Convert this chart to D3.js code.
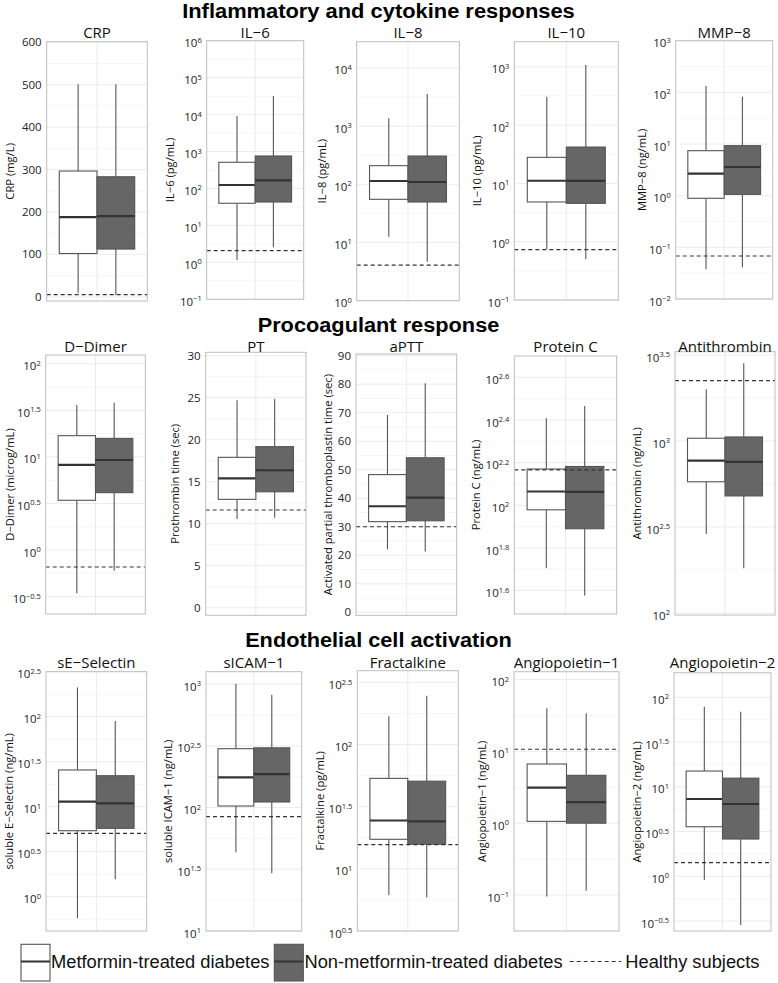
<!DOCTYPE html>
<html>
<head>
<meta charset="utf-8">
<script src="https://cdn.jsdelivr.net/npm/d3@7"></script>
<style>
  html, body { margin: 0; padding: 0; background: #fff; }
  svg { display: block; }
</style>
</head>
<body>
<svg id="chart" width="778" height="983"></svg>
<script>
// ---------------- DATA ----------------
const sectionTitles = ["Inflammatory and cytokine responses", "Procoagulant response", "Endothelial cell activation"];

const panelNames = ["CRP", "IL−6", "IL−8", "IL−10", "MMP−8",
  "D−Dimer", "PT", "aPTT", "Protein C", "Antithrombin",
  "sE−Selectin", "sICAM−1", "Fractalkine", "Angiopoietin−1", "Angiopoietin−2"];

const axisTitles = ["CRP (mg/L)", "IL−6 (pg/mL)", "IL−8 (pg/mL)", "IL−10 (pg/mL)", "MMP−8 (ng/mL)",
  "D−Dimer (microg/mL)", "Prothrombin time (sec)", "Activated partial thromboplastin time (sec)",
  "Protein C (ng/mL)", "Antithrombin (ng/mL)",
  "soluble E−Selectin (ng/mL)", "soluble ICAM−1 (ng/mL)", "Fractalkine (pg/mL)",
  "Angiopoietin−1 (ng/mL)", "Angiopoietin−2 (ng/mL)"];

const groups = ["Metformin-treated diabetes", "Non-metformin-treated diabetes"];
const legendHealthy = "Healthy subjects";

// [whisker low, Q1, median, Q3, whisker high]
const metformin = [
  [9.4, 102, 188, 296.5, 501],
  [1.16, 39.7, 124, 512, 9160],
  [12.6, 55.2, 114, 209, 1361],
  [0.74, 4.8, 11.1, 28, 307],
  [0.0375, 0.89, 2.67, 7.43, 133],
  [0.343, 3.42, 8.19, 16.9, 36.1],
  [10.56, 12.9, 15.4, 17.9, 24.7],
  [22.1, 31.8, 37.2, 48.3, 69.2],
  [50.7, 95.2, 116, 147.9, 256],
  [288, 579, 768, 1037, 1999],
  [0.575, 5.41, 11.4, 25.6, 212],
  [43.4, 103, 176, 300, 1007],
  [6.14, 17.3, 24.5, 53.5, 169],
  [0.095, 1.06, 3.12, 6.67, 39.7],
  [0.91, 3.58, 7.31, 15.0, 78.5]
];
const nonMetformin = [
  [4, 112.5, 190, 283, 501],
  [2.56, 43, 166, 757, 31900],
  [4.68, 49.6, 109.5, 306, 3560],
  [0.505, 4.55, 11, 42, 1074],
  [0.041, 1.06, 3.59, 9.3, 82.4],
  [0.6, 4.13, 9.26, 15.8, 38.2],
  [10.7, 13.8, 16.36, 19.17, 24.85],
  [21.3, 32.1, 40.2, 54.2, 80.3],
  [37.7, 77.6, 115.6, 152, 292],
  [182, 479, 755, 1055, 2830],
  [1.56, 5.75, 10.9, 22.1, 89.6],
  [29.4, 111, 187, 305, 820],
  [5.89, 15.8, 24.1, 50.8, 247],
  [0.115, 1.0, 1.97, 4.64, 33.9],
  [0.286, 2.61, 6.43, 12.5, 69]
];
const healthy = [5, 2.07, 4.1, 0.73, 0.068, 0.657, 11.63, 30, 146.6, 2244, 5.06, 84.6, 15.7, 10.7, 1.42];

const scaleTypes = ["linear", "log", "log", "log", "log", "log", "linear", "linear", "log", "log", "log", "log", "log", "log", "log"];
// linear: value domain; log: log10 exponent domain
const domains = [
  [-10, 601.5], [-1, 6], [0, 4.45], [-1, 3.43], [-2, 3],
  [-0.687, 2.094], [-0.9, 30.4], [-1.05, 90.6], [1.49, 2.70], [1.988, 3.519],
  [-0.381, 2.5], [1.0, 3.101], [0.5, 2.595], [-1.501, 2.109], [-0.611, 2.275]
];
// linear: tick values; log: tick exponents
const ticks = [
  [0, 100, 200, 300, 400, 500, 600],
  [-1, 0, 1, 2, 3, 4, 5, 6],
  [0, 1, 2, 3, 4],
  [-1, 0, 1, 2, 3],
  [-2, -1, 0, 1, 2, 3],
  [-0.5, 0, 0.5, 1, 1.5, 2],
  [0, 5, 10, 15, 20, 25, 30],
  [0, 10, 20, 30, 40, 50, 60, 70, 80, 90],
  [1.6, 1.8, 2, 2.2, 2.4, 2.6],
  [2, 2.5, 3, 3.5],
  [0, 0.5, 1, 1.5, 2, 2.5],
  [1, 1.5, 2, 2.5, 3],
  [0.5, 1, 1.5, 2, 2.5],
  [-1, 0, 1, 2],
  [-0.5, 0, 0.5, 1, 1.5, 2]
];

// ---------------- LAYOUT ----------------
// panel rectangles [left, right, top, bottom]
const panelRects = [
  [46.7, 147.3, 41.7, 301], [206.7, 303.7, 40.7, 299.3], [356.7, 459.3, 41.7, 300.7], [514.3, 618.3, 41.7, 300], [675.7, 772.7, 40.7, 299],
  [45.7, 145.3, 355, 614], [205.7, 306, 352.3, 615.3], [356, 456.7, 354, 615.3], [514.3, 616.7, 356, 614], [675, 775, 351.7, 615],
  [46, 146.7, 671.7, 931], [206, 301.7, 671.7, 931], [357.3, 458.3, 670.7, 931], [514, 619, 671.7, 931], [674, 771, 672.7, 931]
];
const axisTitleX = [10, 170, 321.7, 477.3, 641.7, 10, 175, 328.3, 476, 637.3, 9.3, 168.3, 320, 481.7, 636.7];
const panelTitleY = [37.5, 351.5, 668];
const sectionTitleY = [17.5, 331.7, 646.7];
const sectionTitleW = [392.6, 241.7, 266.7];

const FONT = "'Open Sans', 'DejaVu Sans', sans-serif";
const FONT2 = "'Liberation Sans', Arial, sans-serif";
const GRAY = "#666666";
const LINE = "#555555";

const svg = d3.select("#chart");

// Section titles
svg.selectAll("text.section").data(sectionTitles).join("text")
  .attr("class", "section")
  .attr("x", 378.5)
  .attr("y", (d, i) => sectionTitleY[i])
  .attr("text-anchor", "middle")
  .attr("font-family", FONT2)
  .attr("font-weight", "bold")
  .attr("font-size", 20)
  .attr("textLength", (d, i) => sectionTitleW[i])
  .attr("lengthAdjust", "spacingAndGlyphs")
  .attr("fill", "#000")
  .text(d => d);

function fmtExp(e) {
  const s = (Math.round(e * 10) / 10).toString();
  return s.replace("-", "−");
}

panelNames.forEach((name, i) => {
  const [L, R, T, B] = panelRects[i];
  const isLog = scaleTypes[i] === "log";
  const dom = domains[i];
  const y = isLog
    ? d3.scaleLog().domain([Math.pow(10, dom[0]), Math.pow(10, dom[1])]).range([B, T])
    : d3.scaleLinear().domain(dom).range([B, T]);
  const tv = ticks[i];
  const tickVal = t => isLog ? Math.pow(10, t) : t;

  // minor breaks: midpoints between majors plus one outside each end
  const step = tv[1] - tv[0];
  const minors = [];
  for (let k = -1; k < tv.length; k++) {
    const m = (k < 0 ? tv[0] - step / 2 : tv[k] + step / 2);
    if (m > dom[0] && m < dom[1]) minors.push(m);
  }

  const g = svg.append("g");
  const cx = (L + R) / 2;
  const W = R - L;

  g.append("rect").attr("x", L).attr("y", T).attr("width", W).attr("height", B - T).attr("fill", "#fff");

  g.selectAll("line.minor").data(minors).join("line")
    .attr("x1", L).attr("x2", R)
    .attr("y1", d => y(tickVal(d))).attr("y2", d => y(tickVal(d)))
    .attr("stroke", "#f3f3f3").attr("stroke-width", 0.8);
  g.selectAll("line.major").data(tv.filter(t => t >= dom[0] && t <= dom[1])).join("line")
    .attr("x1", L).attr("x2", R)
    .attr("y1", d => y(tickVal(d))).attr("y2", d => y(tickVal(d)))
    .attr("stroke", "#e9e9e9").attr("stroke-width", 0.9);
  g.append("line").attr("x1", cx).attr("x2", cx).attr("y1", T).attr("y2", B)
    .attr("stroke", "#e9e9e9").attr("stroke-width", 0.9);

  const x = d3.scaleBand().domain(groups).range([cx - 0.375 * W, cx + 0.375 * W]).padding(0);
  const stats = [metformin[i], nonMetformin[i]];

  groups.forEach((grp, j) => {
    const s = stats[j];
    const bx = x(grp), bw = x.bandwidth(), mx = bx + bw / 2;
    g.append("line").attr("x1", mx).attr("x2", mx).attr("y1", y(s[3])).attr("y2", y(s[4]))
      .attr("stroke", LINE).attr("stroke-width", 1.1);
    g.append("line").attr("x1", mx).attr("x2", mx).attr("y1", y(s[1])).attr("y2", y(s[0]))
      .attr("stroke", LINE).attr("stroke-width", 1.1);
    g.append("rect").attr("x", bx).attr("y", y(s[3])).attr("width", bw).attr("height", y(s[1]) - y(s[3]))
      .attr("fill", j === 0 ? "#ffffff" : GRAY).attr("stroke", LINE).attr("stroke-width", 1.1);
    g.append("line").attr("x1", bx).attr("x2", bx + bw).attr("y1", y(s[2])).attr("y2", y(s[2]))
      .attr("stroke", "#333").attr("stroke-width", 2.2);
  });

  g.append("line").attr("x1", L).attr("x2", R).attr("y1", y(healthy[i])).attr("y2", y(healthy[i]))
    .attr("stroke", "#333").attr("stroke-width", 1.2).attr("stroke-dasharray", "4,3");

  g.append("rect").attr("x", L).attr("y", T).attr("width", W).attr("height", B - T)
    .attr("fill", "none").attr("stroke", "#bdbdbd").attr("stroke-width", 1);

  tv.forEach(t => {
    const yy = y(tickVal(t));
    if (isLog) {
      const txt = g.append("text").attr("x", L - 5).attr("y", yy + 6.6)
        .attr("text-anchor", "end").attr("font-family", FONT).attr("font-size", 11.5).attr("fill", "#222");
      txt.append("tspan").text("10");
      txt.append("tspan").attr("dy", -4.6).attr("font-size", 7.5).text(fmtExp(t));
    } else {
      g.append("text").attr("x", L - 5).attr("y", yy + 4.1)
        .attr("text-anchor", "end").attr("font-family", FONT).attr("font-size", 11.5).attr("fill", "#222")
        .text(t);
    }
  });

  g.append("text").attr("x", cx).attr("y", panelTitleY[Math.floor(i / 5)])
    .attr("text-anchor", "middle").attr("font-family", FONT).attr("font-size", 15).attr("fill", "#111")
    .text(name);

  g.append("text")
    .attr("transform", `translate(${axisTitleX[i]},${(T + B) / 2}) rotate(-90)`)
    .attr("text-anchor", "middle").attr("dy", "0.35em")
    .attr("font-family", FONT).attr("font-size", 11.2).attr("fill", "#111")
    .text(axisTitles[i]);
});

// ---------------- LEGEND ----------------
const leg = svg.append("g");
const legBoxes = [{x: 21, fill: "#ffffff", label: groups[0], tx: 51},
                  {x: 274.3, fill: GRAY, label: groups[1], tx: 304.5}];
legBoxes.forEach(b => {
  leg.append("rect").attr("x", b.x).attr("y", 944.3).attr("width", 29).attr("height", 36.7)
    .attr("fill", b.fill).attr("stroke", LINE).attr("stroke-width", 1.1);
  leg.append("line").attr("x1", b.x).attr("x2", b.x + 29).attr("y1", 961.5).attr("y2", 961.5)
    .attr("stroke", "#333").attr("stroke-width", 2);
  leg.append("text").attr("x", b.tx).attr("y", 967.5).attr("font-family", FONT2).attr("font-size", 18.3)
    .attr("fill", "#111").text(b.label);
});
leg.append("line").attr("x1", 569.7).attr("x2", 621.3).attr("y1", 961.5).attr("y2", 961.5)
  .attr("stroke", "#333").attr("stroke-width", 1.2).attr("stroke-dasharray", "4,3");
leg.append("text").attr("x", 625.3).attr("y", 967.5).attr("font-family", FONT2).attr("font-size", 18.3)
  .attr("fill", "#111").text(legendHealthy);
</script>
</body>
</html>
